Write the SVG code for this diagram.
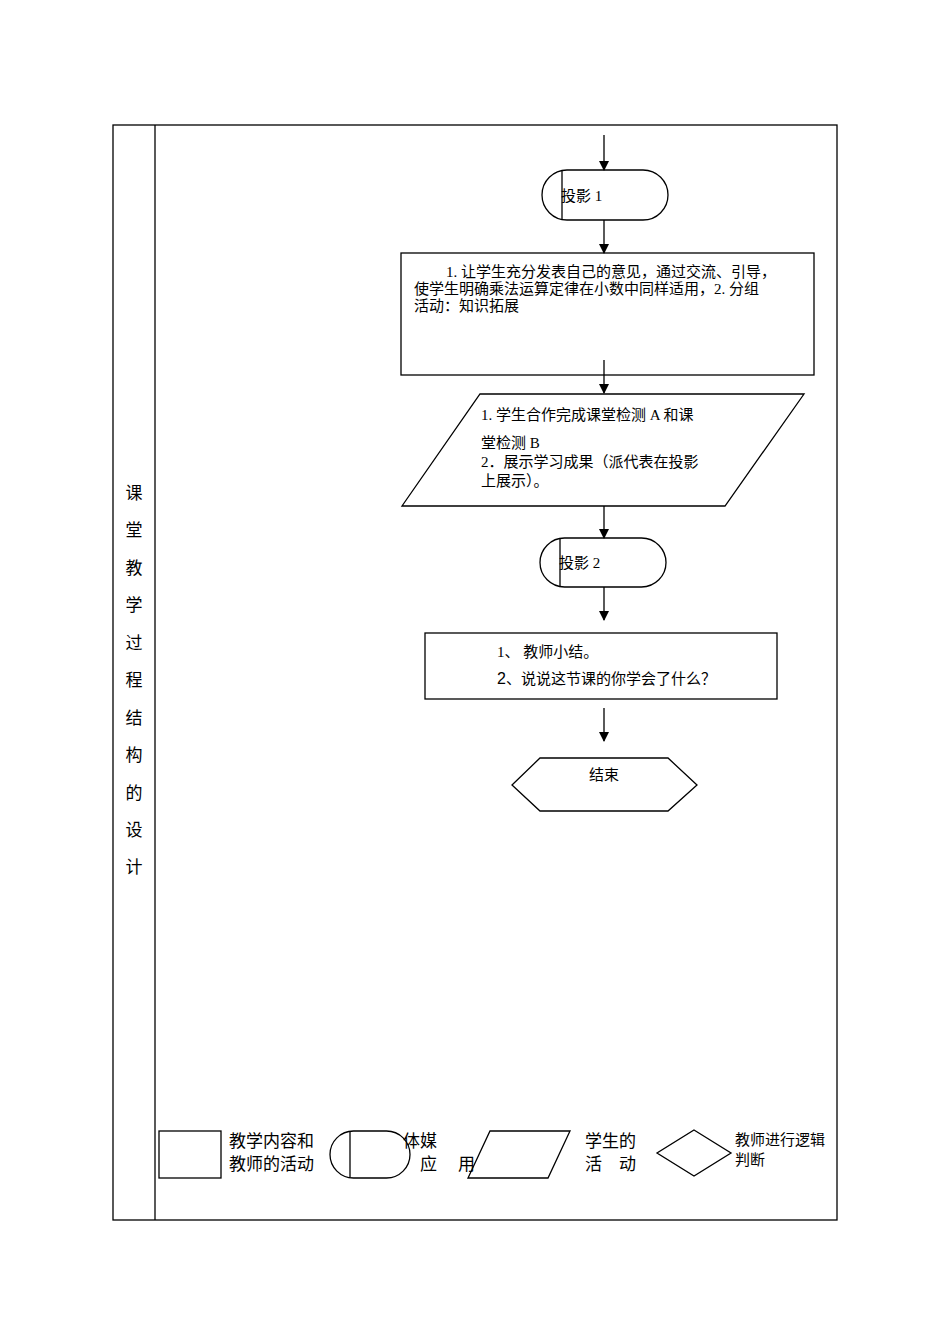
<svg xmlns="http://www.w3.org/2000/svg" width="950" height="1344" viewBox="0 0 950 1344">
<style>
.s{fill:none;stroke:#000;stroke-width:1.3}
.t{font-family:"Liberation Serif","Noto Sans CJK SC",serif;font-size:15px;fill:#000}
.l{font-family:"Liberation Sans","Noto Sans CJK SC",sans-serif;font-size:17px;fill:#000}
</style>
<defs><marker id="a" markerWidth="10" markerHeight="10" refX="9" refY="5" orient="auto" markerUnits="userSpaceOnUse"><path d="M0,0L10,5L0,10z" fill="#000"/></marker></defs>
<rect width="950" height="1344" fill="#fff"/>
<g id="table"><rect class="s" x="113" y="125" width="724" height="1095"/><line class="s" x1="155" y1="125" x2="155" y2="1220"/>
<g class="l" text-anchor="middle"><text x="134" y="499">课</text><text x="134" y="536">堂</text><text x="134" y="574">教</text><text x="134" y="611">学</text><text x="134" y="649">过</text><text x="134" y="686">程</text><text x="134" y="724">结</text><text x="134" y="761">构</text><text x="134" y="799">的</text><text x="134" y="836">设</text><text x="134" y="873">计</text></g></g>
<g id="connectors" class="s" marker-end="url(#a)">
<line x1="604" y1="135" x2="604" y2="170"/><line x1="604" y1="220" x2="604" y2="253"/><line x1="604" y1="360" x2="604" y2="393"/><line x1="604" y1="506" x2="604" y2="538"/><line x1="604" y1="587" x2="604" y2="620"/><line x1="604" y1="708" x2="604" y2="741"/></g>
<g id="n1"><rect class="s" x="542" y="170" width="126" height="50" rx="25"/><line class="s" x1="562" y1="171" x2="562" y2="219"/><text class="t" x="561" y="201">投影 1</text></g>
<g id="n2"><rect class="s" x="401" y="253" width="413" height="122"/><text class="t"><tspan x="446" y="277">1. 让学生充分发表自己的意见，通过交流、引导，</tspan><tspan x="414" y="294">使学生明确乘法运算定律在小数中同样适用，2. 分组</tspan><tspan x="414" y="311">活动：知识拓展</tspan></text></g>
<g id="n3"><polygon class="s" points="480,394 804,394 725,506 402,506"/><text class="t"><tspan x="481" y="420">1. 学生合作完成课堂检测 A 和课</tspan><tspan x="481" y="448">堂检测 B</tspan><tspan x="481" y="467">2．展示学习成果（派代表在投影</tspan><tspan x="481" y="486">上展示）。</tspan></text></g>
<g id="n4"><rect class="s" x="540" y="538" width="126" height="49" rx="24.5"/><line class="s" x1="560" y1="539" x2="560" y2="586"/><text class="t" x="559" y="568">投影 2</text></g>
<g id="n5"><rect class="s" x="425" y="633" width="352" height="66"/><text class="t" x="497" y="657">1、 教师小结。</text><text class="t" x="497" y="684"><tspan font-family="Liberation Sans,sans-serif" font-size="16">2</tspan>、说说这节课的你学会了什么？</text></g>
<g id="n6"><polygon class="s" points="540,758 668,758 697,785 668,811 540,811 512,785"/><text class="t" x="604" y="780" text-anchor="middle">结束</text></g>
<g id="legend">
<rect class="s" x="159" y="1131" width="62" height="47"/><text class="l" x="229" y="1147">教学内容和</text><text class="l" x="229" y="1170">教师的活动</text>
<rect class="s" x="330" y="1131" width="80" height="47" rx="23.5"/><line class="s" x1="350" y1="1132" x2="350" y2="1177"/><text class="l" x="403" y="1147">体媒</text><text class="l" x="420" y="1170">应</text><text class="l" x="458" y="1170">用</text>
<polygon class="s" points="490,1131 570,1131 548,1178 468,1178"/><text class="l" x="585" y="1147">学生的</text><text class="l" x="585" y="1170">活　动</text>
<polygon class="s" points="694,1130 731,1153 694,1176 657,1153"/><text class="t" x="735" y="1145" font-size="13">教师进行逻辑</text><text class="t" x="735" y="1165" font-size="13">判断</text></g>
</svg>
